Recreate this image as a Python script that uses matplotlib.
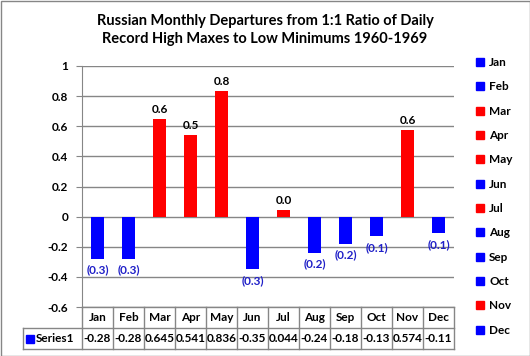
import matplotlib.pyplot as plt
from matplotlib.lines import Line2D
from matplotlib.patches import Rectangle

months = ['Jan', 'Feb', 'Mar', 'Apr', 'May', 'Jun', 'Jul', 'Aug', 'Sep', 'Oct', 'Nov', 'Dec']
values = [-0.28, -0.28, 0.645, 0.541, 0.836, -0.35, 0.044, -0.24, -0.18, -0.13, 0.574, -0.11]
series_name = 'Series1'
yticks = [-0.6, -0.4, -0.2, 0, 0.2, 0.4, 0.6, 0.8, 1]

plt.rcParams['font.family'] = ['Lato', 'DejaVu Sans']
plt.rcParams['font.weight'] = 'bold'

W, H = 530, 356
fig = plt.figure(figsize=(W / 100, H / 100), dpi=100)
fig.patch.set_facecolor('white')
fig.add_artist(Rectangle((0.5 / W, 0.5 / H), 1 - 1 / W, 1 - 1 / H, transform=fig.transFigure,
                         fill=False, edgecolor='#868686', lw=1))

gray = '#868686'
fs = 8.5
ax_l, ax_r, ax_t, ax_b = 82, 454, 66, 307
ax = fig.add_axes([ax_l / W, 1 - ax_b / H, (ax_r - ax_l) / W, (ax_b - ax_t) / H])

colors = ['#ff0000' if v > 0 else '#0000ff' for v in values]
x = range(len(months))
bars = ax.bar(x, values, width=0.44, color=colors, zorder=3)

ax.set_xlim(-0.5, 11.5)
ax.set_ylim(-0.6, 1)
ax.set_yticks(yticks)
ax.set_yticklabels([f'{t:g}' for t in yticks], fontsize=fs, fontweight='bold')
ax.set_xticks([])
ax.grid(axis='y', color=gray, lw=1, zorder=0)
for s in ['top', 'right', 'bottom']:
    ax.spines[s].set_visible(False)
ax.spines['left'].set_color(gray)
ax.tick_params(axis='y', length=4, color=gray, pad=6)

# data labels
for i, v in enumerate(values):
    if v > 0:
        ax.annotate(f'{v:.1f}', (i, v), xytext=(0, 3), textcoords='offset points',
                    ha='center', va='bottom', fontsize=fs, fontweight='bold', color='black')
    else:
        ax.annotate(f'({abs(v):.1f})', (i, v), xytext=(0, -4), textcoords='offset points',
                    ha='center', va='top', fontsize=fs, fontweight='bold', color='#2020c8')

# data table below the axis
tr = ax.get_xaxis_transform()
ah = ax_b - ax_t
r0, r1, r2 = 0, -21 / ah, -42 / ah
left_x = -0.5 - (ax_l - 23) / ((ax_r - ax_l) / 12)
kw = dict(transform=tr, color=gray, lw=1, clip_on=False)
ax.plot([-0.5, 11.5], [r0, r0], **kw)
ax.plot([left_x, 11.5], [r1, r1], **kw)
ax.plot([left_x, 11.5], [r2, r2], **kw)
ax.plot([left_x, left_x], [r1, r2], **kw)
for i in range(13):
    ax.plot([i - 0.5, i - 0.5], [r0, r2], **kw)
for i, (m, v) in enumerate(zip(months, values)):
    ax.text(i, (r0 + r1) / 2, m, transform=tr, ha='center', va='center', fontsize=fs, fontweight='bold')
    ax.text(i, (r1 + r2) / 2, f'{v:g}', transform=tr, ha='center', va='center', fontsize=fs, fontweight='bold')
ax.plot([left_x + 0.22], [(r1 + r2) / 2], marker='s', color='#0000ff', ms=6, transform=tr, clip_on=False)
ax.text(left_x + 0.42, (r1 + r2) / 2, series_name, transform=tr, ha='left', va='center',
        fontsize=fs, fontweight='bold')

# title
fig.text(265 / W, 1 - 30 / H, 'Russian Monthly Departures from 1:1 Ratio of Daily\nRecord High Maxes to Low Minimums 1960-1969',
         ha='center', va='center', fontsize=10.5, fontweight='bold', linespacing=1.3)

# legend
handles = [Line2D([], [], marker='s', ls='', color=c, ms=6) for c in colors]
fig.legend(handles, months, loc='upper left', bbox_to_anchor=(475 / W, 1 - 57 / H), frameon=False,
           handlelength=0.8, handletextpad=0.4, labelspacing=1.13, prop={'size': fs, 'weight': 'bold'},
           borderaxespad=0, borderpad=0)

fig.savefig('out.png', dpi=100)
